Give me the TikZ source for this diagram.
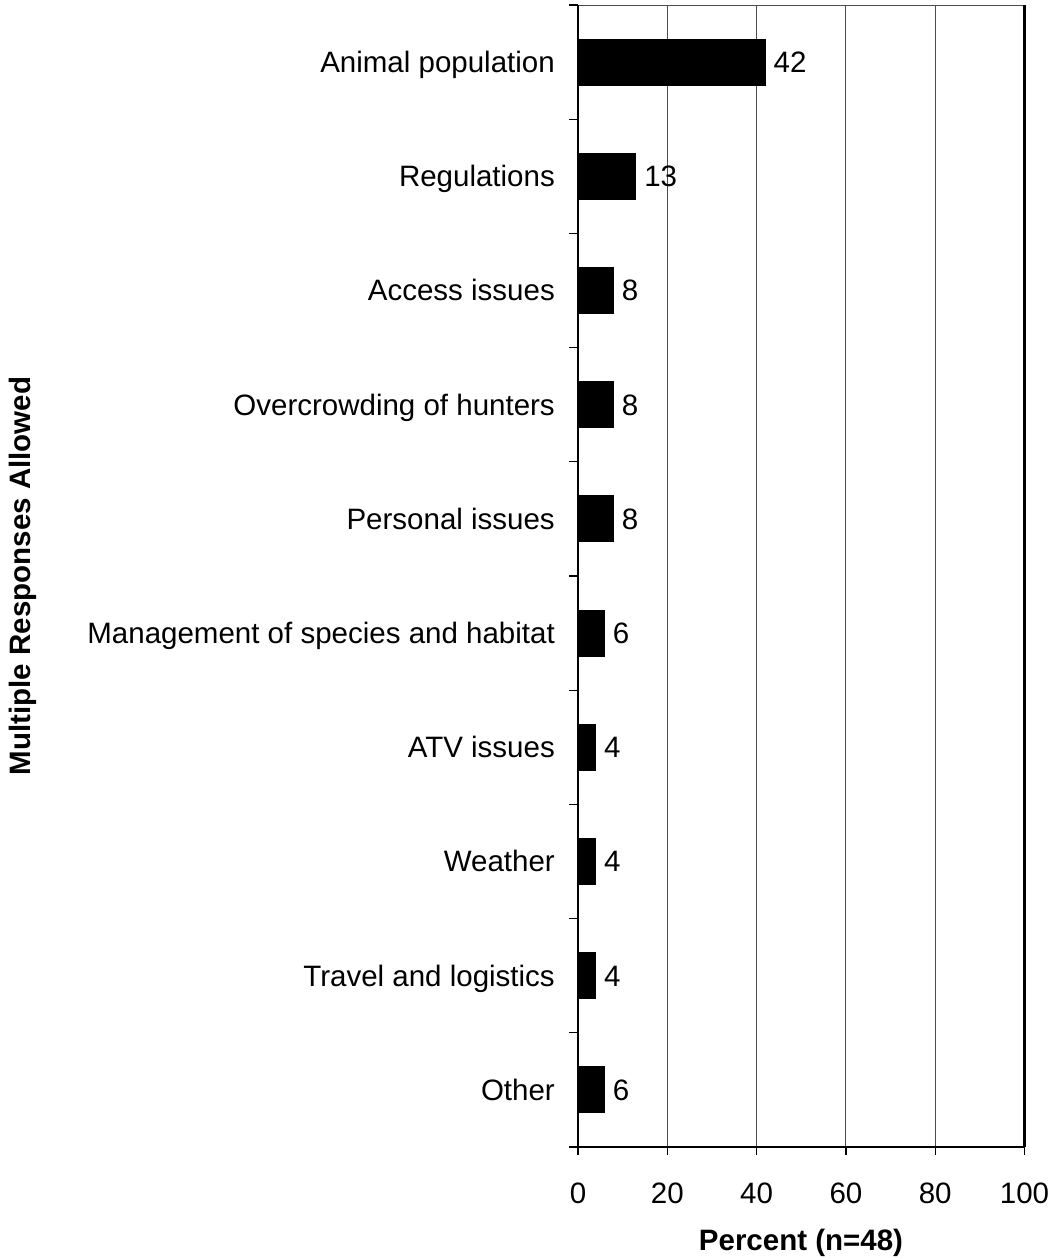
\documentclass[tikz,border=0pt]{standalone}
\usepackage{fontspec}
\setmainfont{Liberation Sans}
\begin{document}
\begin{tikzpicture}[x=1pt,y=-1pt,
  txt/.style={inner sep=0pt,font=\fontsize{29.5}{34}\selectfont},
  btxt/.style={inner sep=0pt,font=\fontsize{29.5}{34}\selectfont\bfseries},
  grid/.style={draw=black!70,line width=1pt},
  axis/.style={draw=black,line width=2.2pt},
  bar/.style={fill=black,draw=none}]
\useasboundingbox (0,0) rectangle (1055,1259);
\fill[white] (0,0) rectangle (1055,1259);
\def\xz{578}\def\sc{4.465}
% grid lines
\foreach \p in {20,40,60,80}{
  \draw[grid] ({\xz+\sc*\p},5) -- ({\xz+\sc*\p},1147);
}
% top border
\draw[grid] (\xz,5) -- ({\xz+\sc*100},5);
% right border
\draw[axis] ({\xz+\sc*100},5) -- ({\xz+\sc*100},1147);
% bars
\foreach \v [count=\i from 0] in {42,13,8,8,8,6,4,4,4,6}{
  \pgfmathsetmacro{\yc}{5+114.2*(\i+0.5)}
  \fill[bar] (\xz,\yc-23.5) rectangle ({\xz+\sc*\v},\yc+23.5);
  \node[txt,anchor=base west] (v\i) at ({\xz+\sc*\v+8},\yc+10.3) {\v};
}
% category labels
\foreach \t [count=\i from 0] in {Animal population,Regulations,Access issues,Overcrowding of hunters,Personal issues,Management of species and habitat,ATV issues,Weather,Travel and logistics,Other}{
  \pgfmathsetmacro{\yc}{5+114.2*(\i+0.5)}
  \node[txt,anchor=base east] (c\i) at (555,\yc+10.3) {\t};
}
% left axis ticks
\foreach \i in {0,...,10}{
  \draw[line width=1.2pt] (569,{5+114.2*\i}) -- (\xz,{5+114.2*\i});
}
% bottom ticks and labels
\foreach \p in {0,20,40,60,80,100}{
  \draw[line width=1.2pt] ({\xz+\sc*\p},1147) -- ({\xz+\sc*\p},1155);
  \node[txt,anchor=base] (t\p) at ({\xz+\sc*\p},1203) {\p};
}
% axes
\draw[axis] (\xz,5) -- (\xz,1147) -- ({\xz+\sc*100},1147);
% titles
\node[btxt,anchor=base] (xt) at (801,1250) {Percent (n=48)};
\node[btxt,rotate=90] (yt) at (23,576) {Multiple Responses Allowed};
\end{tikzpicture}
\end{document}
